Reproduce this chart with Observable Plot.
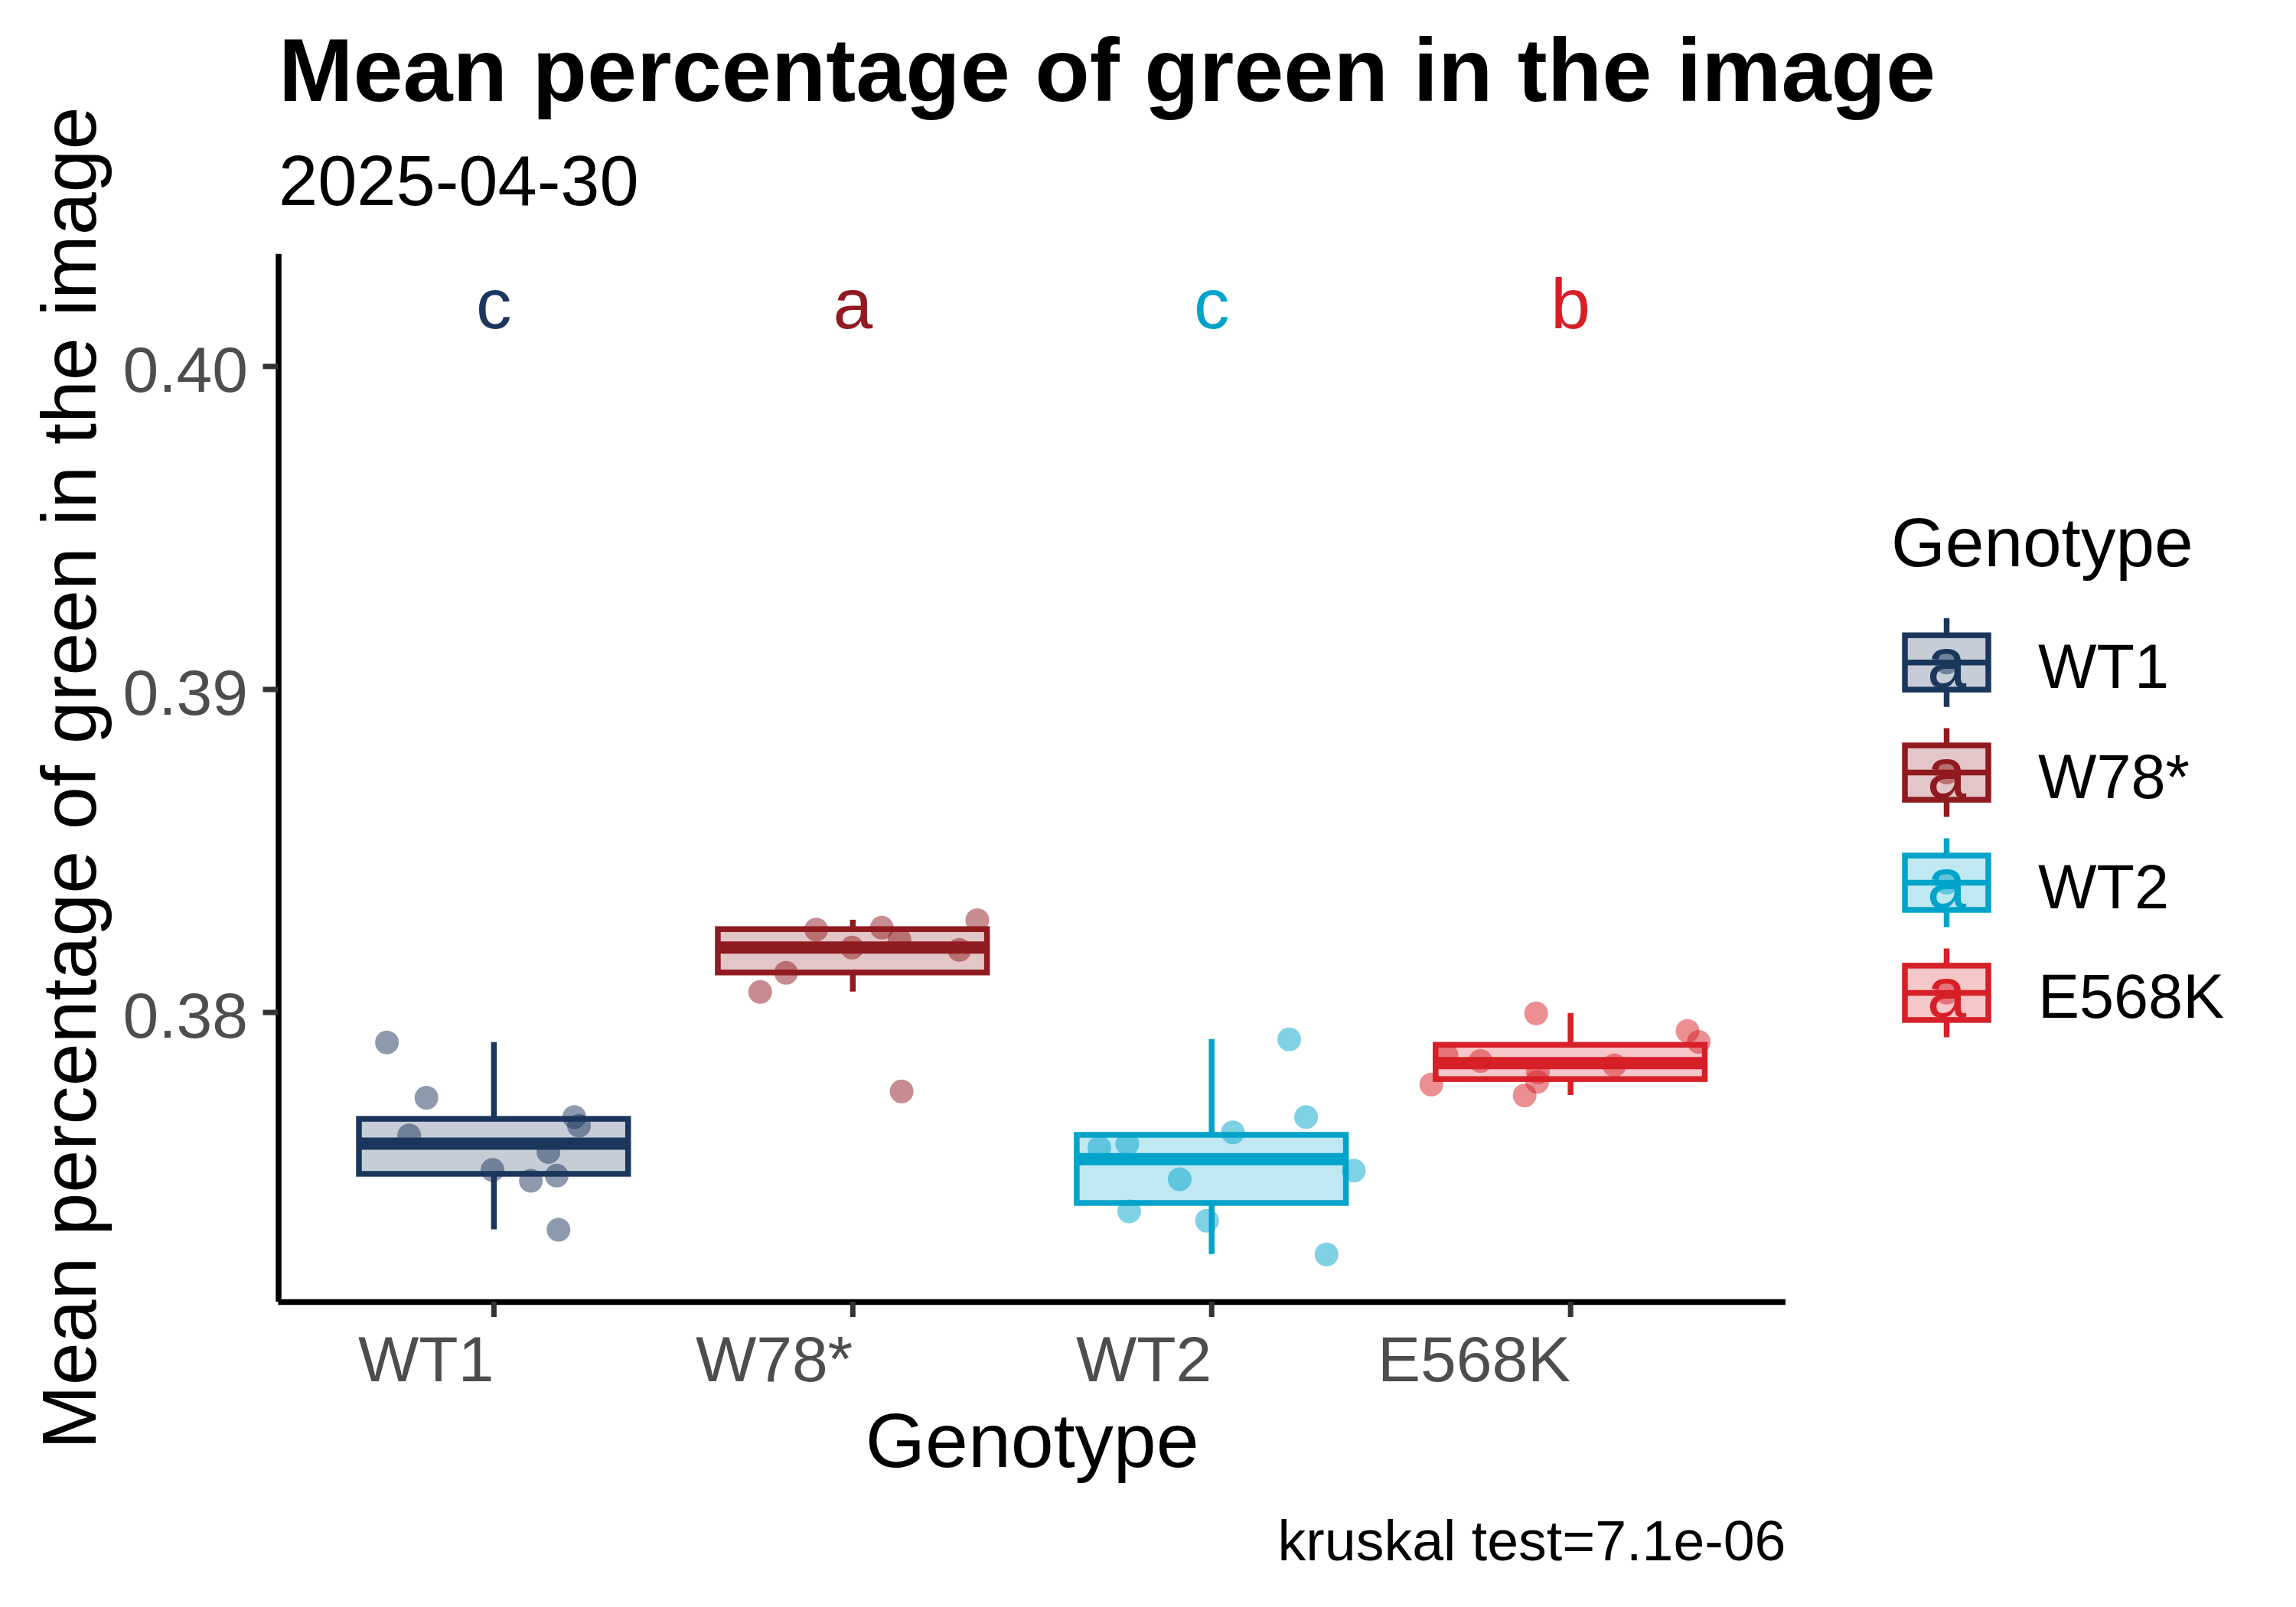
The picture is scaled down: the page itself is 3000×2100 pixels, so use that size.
<!DOCTYPE html>
<html>
<head>
<meta charset="utf-8">
<script src="https://cdn.jsdelivr.net/npm/d3@7"></script>
<script src="https://cdn.jsdelivr.net/npm/@observablehq/plot@0.6"></script>
<style>
  html, body { margin: 0; padding: 0; background: #ffffff; overflow: hidden; }
  #chart { position: relative; width: 3000px; height: 2100px; background: #ffffff; }
  #chart svg { position: absolute; left: 0; top: 0; }
</style>
</head>
<body>
<div id="chart"></div>
<script>
// ---------- data ----------
const genotypes = ["WT1", "W78*", "WT2", "E568K"];
const colors = ["#1B365D", "#8F1A1F", "#00A3CA", "#D71F27"];

const wt1Values = [0.379072, 0.377361, 0.376194, 0.376762, 0.376492, 0.375680, 0.375129, 0.374788, 0.374947, 0.373273];
const wt1Jitter = [-0.298, -0.188, -0.236, 0.224, 0.237, 0.152, -0.004, 0.103, 0.175, 0.180];

const w78Values = [0.382859, 0.382568, 0.382623, 0.382253, 0.382007, 0.381936, 0.381226, 0.380634, 0.377557];
const w78Jitter = [0.347, -0.102, 0.081, 0.130, -0.002, 0.297, -0.186, -0.258, 0.136];

const wt2Values = [0.379167, 0.376762, 0.376289, 0.375815, 0.375934, 0.375105, 0.374836, 0.373842, 0.373550, 0.372509];
const wt2Jitter = [0.216, 0.263, 0.059, -0.313, -0.235, 0.396, -0.089, -0.230, -0.013, 0.320];

const e568kValues = [0.379972, 0.379427, 0.379089, 0.378679, 0.378497, 0.378362, 0.378149, 0.377851, 0.377770, 0.377432];
const e568kJitter = [-0.096, 0.326, 0.357, -0.346, -0.251, 0.122, -0.091, -0.093, -0.388, -0.128];

const letters = ["c", "a", "c", "b"];
const letterY = 0.402;
const yTicks = [0.38, 0.39, 0.40];

const titleText = "Mean percentage of green in the image";
const subtitleText = "2025-04-30";
const xTitle = "Genotype";
const yTitle = "Mean percentage of green in the image";
const legendTitle = "Genotype";
const captionText = "kruskal test=7.1e-06";

// ---------- derived tables ----------
const groups = [wt1Values, w78Values, wt2Values, e568kValues];
const jitters = [wt1Jitter, w78Jitter, wt2Jitter, e568kJitter];

const points = groups.flatMap((vals, i) =>
  vals.map((v, j) => ({genotype: genotypes[i], xpos: i + jitters[i][j], value: v})));

const stats = genotypes.map((g, i) => {
  const s = groups[i].slice().sort(d3.ascending);
  const q1 = d3.quantileSorted(s, 0.25);
  const median = d3.quantileSorted(s, 0.5);
  const q3 = d3.quantileSorted(s, 0.75);
  const iqr = q3 - q1;
  const hi = d3.max(s.filter(v => v <= q3 + 1.5 * iqr));
  const lo = d3.min(s.filter(v => v >= q1 - 1.5 * iqr));
  return {genotype: g, i, q1, median, q3, hi, lo, letter: letters[i], ly: letterY};
});

const allVals = groups.flat();
const yMin = d3.min(allVals), yMax = letterY;
const pad = 0.05 * (yMax - yMin);
const yDomain = [yMin - pad, yMax + pad];
const xDomain = [-0.6, genotypes.length - 1 + 0.6];
const halfBox = 0.375;

const FONT = "'Liberation Sans', Arial, Helvetica, sans-serif";

const W = 3000, H = 2100;
const mL = 363.5, mR = 667, mT = 331.7, mB = 399;

const plot = Plot.plot({
  width: W,
  height: H,
  marginLeft: mL,
  marginRight: mR,
  marginTop: mT,
  marginBottom: mB,
  x: {domain: xDomain, axis: null},
  y: {domain: yDomain, axis: null},
  color: {domain: genotypes, range: colors},
  style: {fontFamily: FONT, background: "transparent", overflow: "visible"},
  marks: [
    // boxes
    Plot.ruleX(stats, {x: "i", y1: "q3", y2: "hi", stroke: "genotype", strokeWidth: 7.5}),
    Plot.ruleX(stats, {x: "i", y1: "q1", y2: "lo", stroke: "genotype", strokeWidth: 7.5}),
    Plot.rect(stats, {
      x1: d => d.i - halfBox, x2: d => d.i + halfBox, y1: "q1", y2: "q3",
      fill: "genotype", fillOpacity: 0.25, stroke: "genotype", strokeWidth: 7.5
    }),
    Plot.ruleY(stats, {y: "median", x1: d => d.i - halfBox, x2: d => d.i + halfBox, stroke: "genotype", strokeWidth: 16}),
    // jittered points
    Plot.dot(points, {x: "xpos", y: "value", r: 15.5, fill: "genotype", fillOpacity: 0.5}),
    // group letters
    Plot.text(stats, {x: "i", y: "ly", text: "letter", fill: "genotype", fontSize: 93, dy: 5}),
    // axis lines
    Plot.ruleY([yDomain[0]], {stroke: "black", strokeWidth: 7.5}),
    Plot.ruleX([xDomain[0]], {stroke: "black", strokeWidth: 7.5}),
    // axes
    Plot.axisX({
      ticks: d3.range(genotypes.length), tickFormat: i => genotypes[i],
      tickSize: 20, tickPadding: 24, textAnchor: "end",
      fontSize: 84, fill: "#4D4D4D", stroke: "#333333", strokeWidth: 7, label: null
    }),
    Plot.axisY({
      ticks: yTicks, tickFormat: () => "", tickSize: 20,
      stroke: "#333333", strokeWidth: 7, label: null
    }),
    Plot.axisY({
      ticks: yTicks, tickFormat: d3.format(".2f"), tickSize: 0, tickPadding: 40,
      fontSize: 84, fill: "#4D4D4D", dy: 6, label: null
    }),
    // titles
    Plot.text([yTitle], {frameAnchor: "left", dx: -(mL - 124), rotate: -90, textAnchor: "middle", lineAnchor: "bottom", fontSize: 100.5, fill: "black"}),
    Plot.text([xTitle], {frameAnchor: "bottom", dy: 1916 - (H - mB), lineAnchor: "bottom", fontSize: 100.5, fill: "black"}),
    Plot.text([titleText], {frameAnchor: "top-left", dy: 131.7 - mT, textAnchor: "start", lineAnchor: "bottom", fontSize: 117, fontWeight: "bold", fill: "black"}),
    Plot.text([subtitleText], {frameAnchor: "top-left", dy: 267.7 - mT, textAnchor: "start", lineAnchor: "bottom", fontSize: 92, fill: "black"}),
    Plot.text([captionText], {frameAnchor: "bottom-right", dy: 2038 - (H - mB), textAnchor: "end", lineAnchor: "bottom", fontSize: 73.5, fill: "black"})
  ]
});

const chart = document.getElementById("chart");
chart.appendChild(plot);

// ---------- legend (drawn with d3) ----------
const legendX = 2471, legendTitleY = 740;
const keyX0 = 2489, keyW = 109, keyH = 71, keyY0 = 865.7, keyStep = 143.9;
const whisk = 58;
const labelX = 2663;

const leg = d3.select(chart).append("svg")
  .attr("width", W).attr("height", H)
  .attr("viewBox", `0 0 ${W} ${H}`)
  .style("pointer-events", "none")
  .attr("font-family", FONT);

leg.append("text")
  .attr("x", legendX).attr("y", legendTitleY)
  .attr("font-size", 91).attr("fill", "black")
  .text(legendTitle);

genotypes.forEach((g, i) => {
  const c = colors[i];
  const cy = keyY0 + i * keyStep;
  const cx = keyX0 + keyW / 2;
  const k = leg.append("g");
  k.append("line").attr("x1", cx).attr("x2", cx).attr("y1", cy - whisk).attr("y2", cy + whisk)
    .attr("stroke", c).attr("stroke-width", 7.5);
  k.append("rect").attr("x", keyX0).attr("y", cy - keyH / 2).attr("width", keyW).attr("height", keyH)
    .attr("fill", "white");
  k.append("rect").attr("x", keyX0).attr("y", cy - keyH / 2).attr("width", keyW).attr("height", keyH)
    .attr("fill", c).attr("fill-opacity", 0.25).attr("stroke", c).attr("stroke-width", 7.5);
  k.append("line").attr("x1", keyX0).attr("x2", keyX0 + keyW).attr("y1", cy).attr("y2", cy)
    .attr("stroke", c).attr("stroke-width", 7.5);
  k.append("circle").attr("cx", cx).attr("cy", cy).attr("r", 15.5)
    .attr("fill", c).attr("fill-opacity", 0.5);
  k.append("text").attr("x", cx).attr("y", cy + 32).attr("text-anchor", "middle")
    .attr("font-size", 92).attr("fill", c).text("a");
  leg.append("text").attr("x", labelX).attr("y", cy + 33)
    .attr("font-size", 81).attr("fill", "black").text(g);
});
</script>
</body>
</html>
